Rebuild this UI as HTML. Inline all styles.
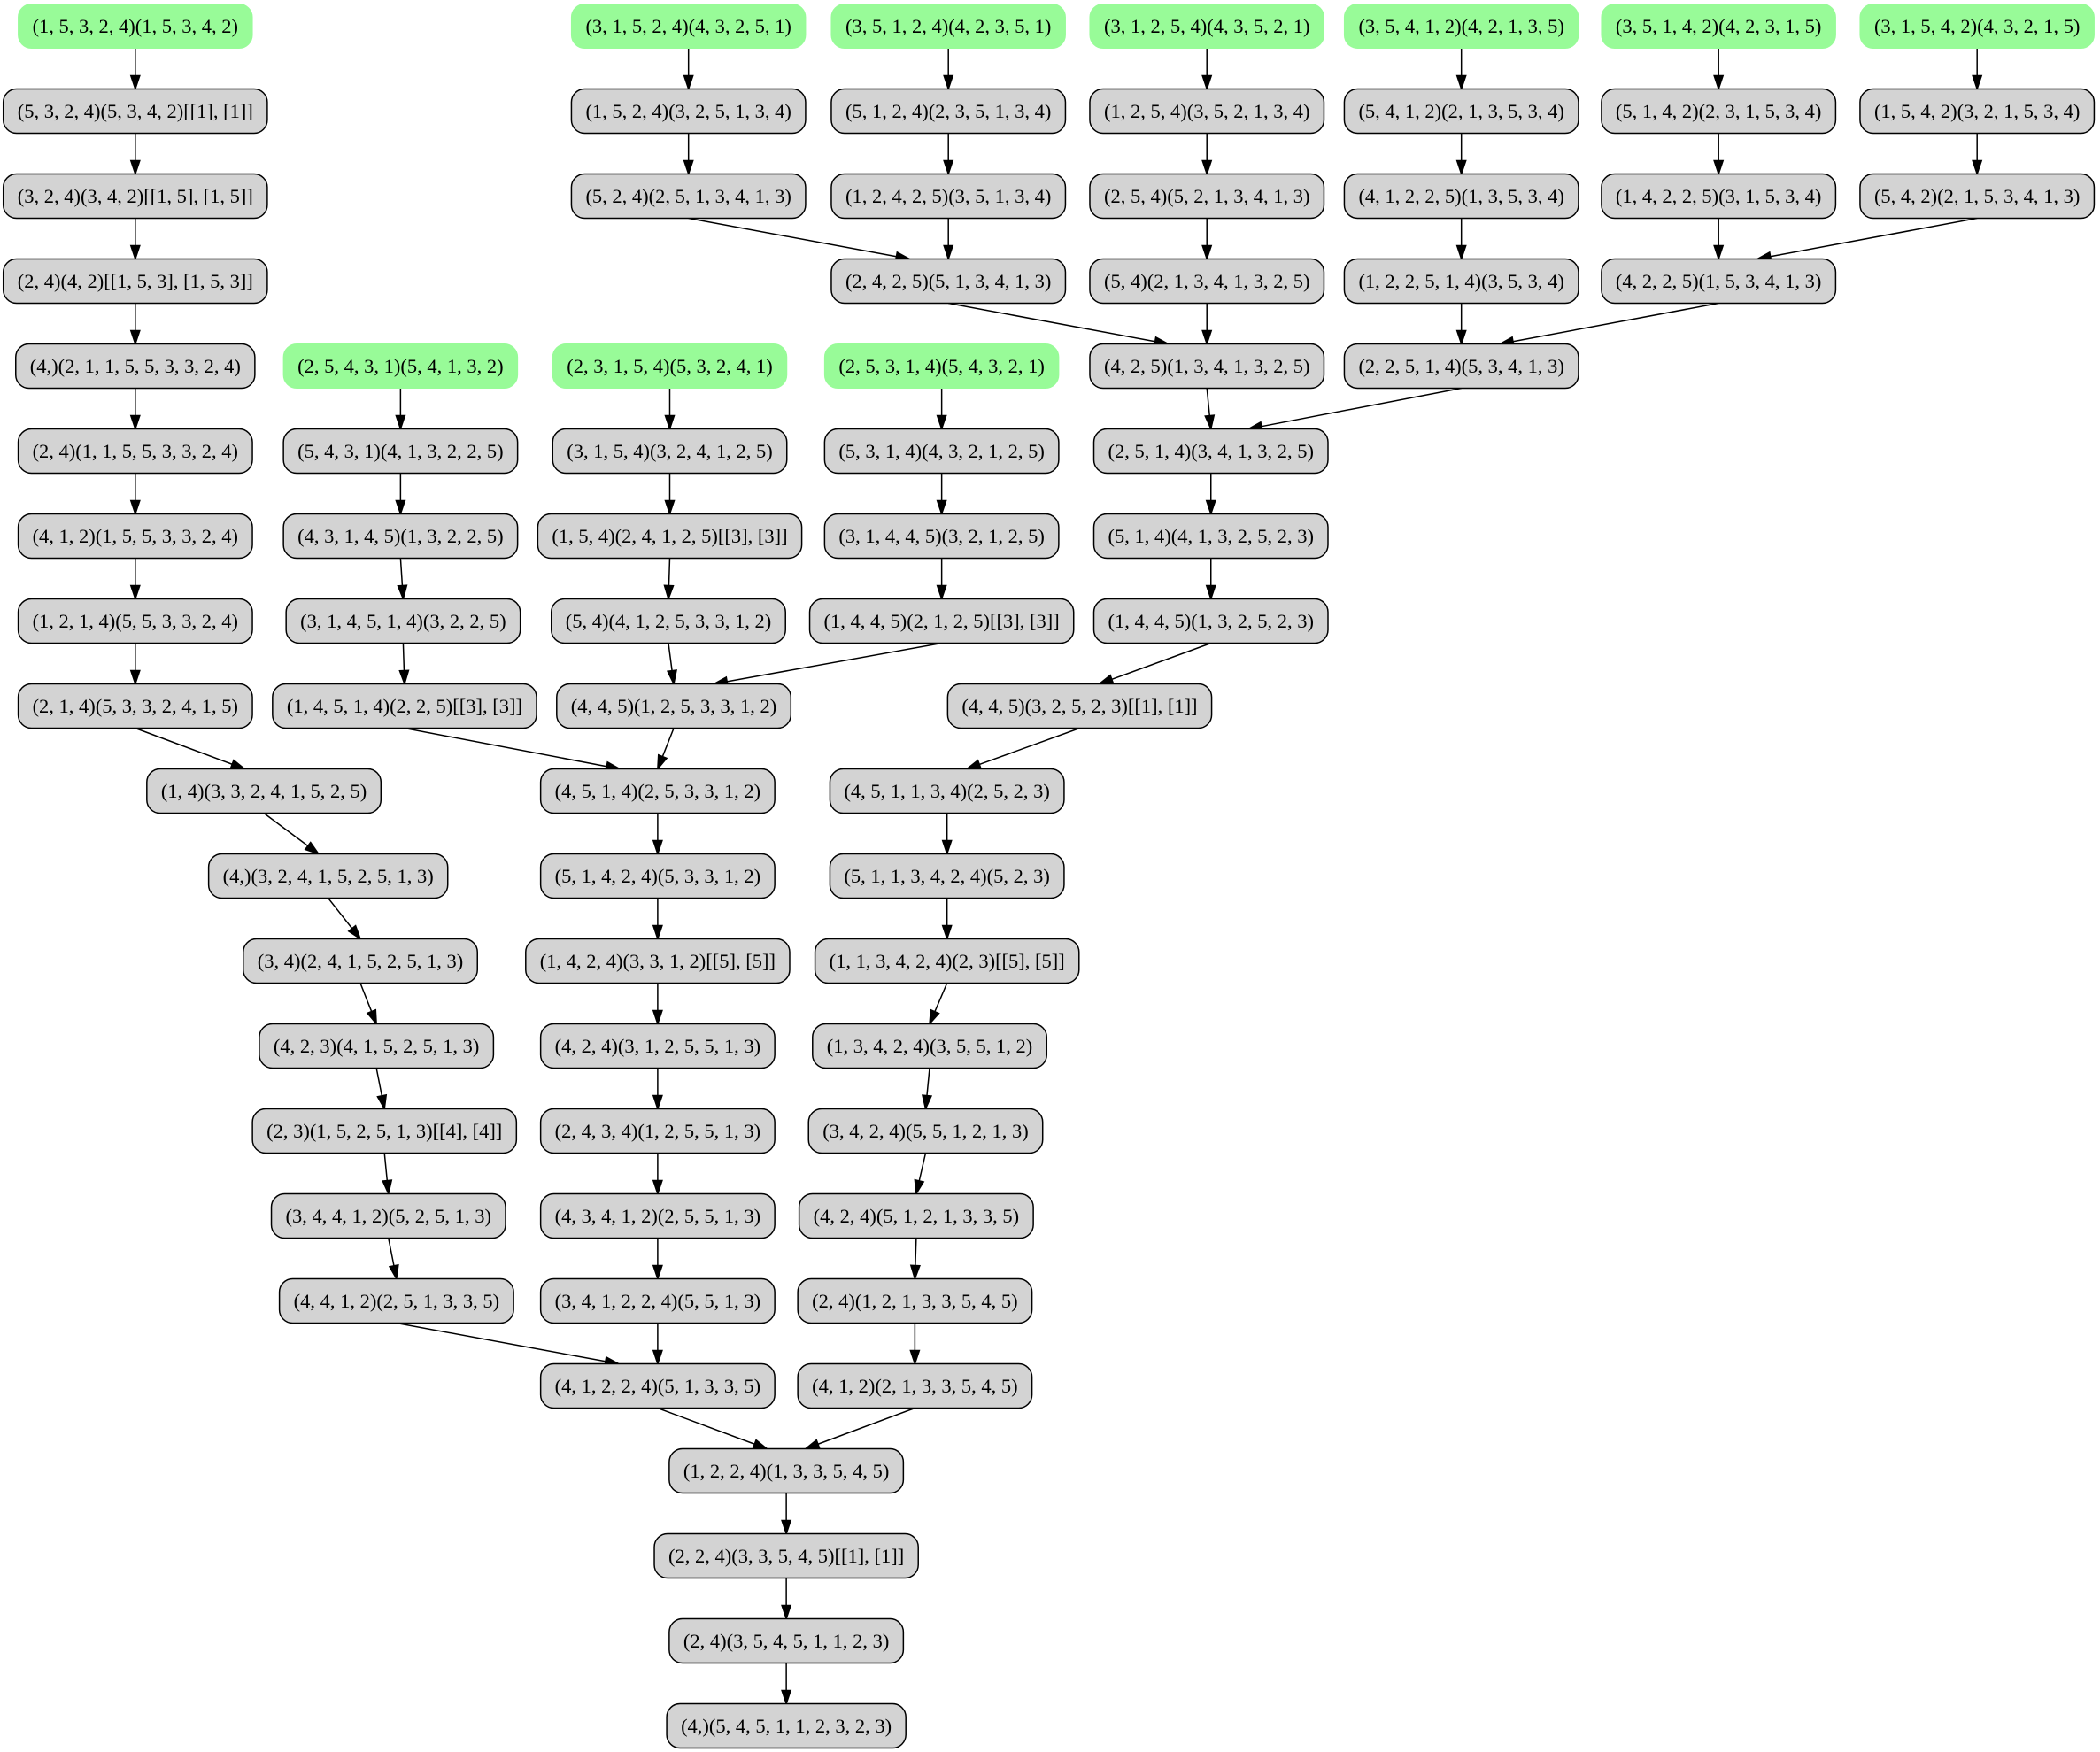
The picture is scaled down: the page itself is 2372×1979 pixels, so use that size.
<!DOCTYPE html>
<html><head><meta charset="utf-8"><style>
html,body{margin:0;padding:0;background:#fff;}
svg{display:block;}
text{font-family:"Liberation Serif",serif;font-size:22.5px;}
</style></head><body>
<svg id="g" width="2372" height="1979" xmlns="http://www.w3.org/2000/svg"></svg>
<script>
const S=1.513;
const N={};
const G=[
["a0",0,101,"(1, 5, 3, 2, 4)(1, 5, 3, 4, 2)",1],
["b0",0,514,"(3, 1, 5, 2, 4)(4, 3, 2, 5, 1)",1],
["c0",0,708,"(3, 5, 1, 2, 4)(4, 2, 3, 5, 1)",1],
["d0",0,901,"(3, 1, 2, 5, 4)(4, 3, 5, 2, 1)",1],
["e0",0,1091,"(3, 5, 4, 1, 2)(4, 2, 1, 3, 5)",1],
["f0",0,1283,"(3, 5, 1, 4, 2)(4, 2, 3, 1, 5)",1],
["g0",0,1476,"(3, 1, 5, 4, 2)(4, 3, 2, 1, 5)",1],
["a1",1,101,"(5, 3, 2, 4)(5, 3, 4, 2)[[1], [1]]"],
["b1",1,514,"(1, 5, 2, 4)(3, 2, 5, 1, 3, 4)"],
["c1",1,708,"(5, 1, 2, 4)(2, 3, 5, 1, 3, 4)"],
["d1",1,901,"(1, 2, 5, 4)(3, 5, 2, 1, 3, 4)"],
["e1",1,1091,"(5, 4, 1, 2)(2, 1, 3, 5, 3, 4)"],
["f1",1,1283,"(5, 1, 4, 2)(2, 3, 1, 5, 3, 4)"],
["g1",1,1476,"(1, 5, 4, 2)(3, 2, 1, 5, 3, 4)"],
["a2",2,101,"(3, 2, 4)(3, 4, 2)[[1, 5], [1, 5]]"],
["b2",2,514,"(5, 2, 4)(2, 5, 1, 3, 4, 1, 3)"],
["c2",2,708,"(1, 2, 4, 2, 5)(3, 5, 1, 3, 4)"],
["d2",2,901,"(2, 5, 4)(5, 2, 1, 3, 4, 1, 3)"],
["e2",2,1091,"(4, 1, 2, 2, 5)(1, 3, 5, 3, 4)"],
["f2",2,1283,"(1, 4, 2, 2, 5)(3, 1, 5, 3, 4)"],
["g2",2,1476,"(5, 4, 2)(2, 1, 5, 3, 4, 1, 3)"],
["a3",3,101,"(2, 4)(4, 2)[[1, 5, 3], [1, 5, 3]]"],
["c3",3,708,"(2, 4, 2, 5)(5, 1, 3, 4, 1, 3)"],
["d3",3,901,"(5, 4)(2, 1, 3, 4, 1, 3, 2, 5)"],
["e3",3,1091,"(1, 2, 2, 5, 1, 4)(3, 5, 3, 4)"],
["f3",3,1283,"(4, 2, 2, 5)(1, 5, 3, 4, 1, 3)"],
["a4",4,101,"(4,)(2, 1, 1, 5, 5, 3, 3, 2, 4)"],
["h4",4,299,"(2, 5, 4, 3, 1)(5, 4, 1, 3, 2)",1],
["i4",4,500,"(2, 3, 1, 5, 4)(5, 3, 2, 4, 1)",1],
["j4",4,703,"(2, 5, 3, 1, 4)(5, 4, 3, 2, 1)",1],
["d4",4,901,"(4, 2, 5)(1, 3, 4, 1, 3, 2, 5)"],
["e4",4,1091,"(2, 2, 5, 1, 4)(5, 3, 4, 1, 3)"],
["a5",5,101,"(2, 4)(1, 1, 5, 5, 3, 3, 2, 4)"],
["h5",5,299,"(5, 4, 3, 1)(4, 1, 3, 2, 2, 5)"],
["i5",5,500,"(3, 1, 5, 4)(3, 2, 4, 1, 2, 5)"],
["j5",5,703,"(5, 3, 1, 4)(4, 3, 2, 1, 2, 5)"],
["d5",5,904,"(2, 5, 1, 4)(3, 4, 1, 3, 2, 5)"],
["a6",6,101,"(4, 1, 2)(1, 5, 5, 3, 3, 2, 4)"],
["h6",6,299,"(4, 3, 1, 4, 5)(1, 3, 2, 2, 5)"],
["i6",6,500,"(1, 5, 4)(2, 4, 1, 2, 5)[[3], [3]]"],
["j6",6,703,"(3, 1, 4, 4, 5)(3, 2, 1, 2, 5)"],
["d6",6,904,"(5, 1, 4)(4, 1, 3, 2, 5, 2, 3)"],
["a7",7,101,"(1, 2, 1, 4)(5, 5, 3, 3, 2, 4)"],
["h7",7,301,"(3, 1, 4, 5, 1, 4)(3, 2, 2, 5)"],
["i7",7,499,"(5, 4)(4, 1, 2, 5, 3, 3, 1, 2)"],
["j7",7,703,"(1, 4, 4, 5)(2, 1, 2, 5)[[3], [3]]"],
["d7",7,904,"(1, 4, 4, 5)(1, 3, 2, 5, 2, 3)"],
["a8",8,101,"(2, 1, 4)(5, 3, 3, 2, 4, 1, 5)"],
["h8",8,302,"(1, 4, 5, 1, 4)(2, 2, 5)[[3], [3]]"],
["i8",8,503,"(4, 4, 5)(1, 2, 5, 3, 3, 1, 2)"],
["d8",8,806,"(4, 4, 5)(3, 2, 5, 2, 3)[[1], [1]]"],
["a9",9,197,"(1, 4)(3, 3, 2, 4, 1, 5, 2, 5)"],
["m9",9,491,"(4, 5, 1, 4)(2, 5, 3, 3, 1, 2)"],
["r9",9,707,"(4, 5, 1, 1, 3, 4)(2, 5, 2, 3)"],
["a10",10,245,"(4,)(3, 2, 4, 1, 5, 2, 5, 1, 3)"],
["m10",10,491,"(5, 1, 4, 2, 4)(5, 3, 3, 1, 2)"],
["r10",10,707,"(5, 1, 1, 3, 4, 2, 4)(5, 2, 3)"],
["a11",11,269,"(3, 4)(2, 4, 1, 5, 2, 5, 1, 3)"],
["m11",11,491,"(1, 4, 2, 4)(3, 3, 1, 2)[[5], [5]]"],
["r11",11,707,"(1, 1, 3, 4, 2, 4)(2, 3)[[5], [5]]"],
["a12",12,281,"(4, 2, 3)(4, 1, 5, 2, 5, 1, 3)"],
["m12",12,491,"(4, 2, 4)(3, 1, 2, 5, 5, 1, 3)"],
["r12",12,694,"(1, 3, 4, 2, 4)(3, 5, 5, 1, 2)"],
["a13",13,287,"(2, 3)(1, 5, 2, 5, 1, 3)[[4], [4]]"],
["m13",13,491,"(2, 4, 3, 4)(1, 2, 5, 5, 1, 3)"],
["r13",13,691,"(3, 4, 2, 4)(5, 5, 1, 2, 1, 3)"],
["a14",14,290,"(3, 4, 4, 1, 2)(5, 2, 5, 1, 3)"],
["m14",14,491,"(4, 3, 4, 1, 2)(2, 5, 5, 1, 3)"],
["r14",14,684,"(4, 2, 4)(5, 1, 2, 1, 3, 3, 5)"],
["a15",15,296,"(4, 4, 1, 2)(2, 5, 1, 3, 3, 5)"],
["m15",15,491,"(3, 4, 1, 2, 2, 4)(5, 5, 1, 3)"],
["r15",15,683,"(2, 4)(1, 2, 1, 3, 3, 5, 4, 5)"],
["m16",16,491,"(4, 1, 2, 2, 4)(5, 1, 3, 3, 5)"],
["r16",16,683,"(4, 1, 2)(2, 1, 3, 3, 5, 4, 5)"],
["z17",17,587,"(1, 2, 2, 4)(1, 3, 3, 5, 4, 5)"],
["z18",18,587,"(2, 2, 4)(3, 3, 5, 4, 5)[[1], [1]]"],
["z19",19,587,"(2, 4)(3, 5, 4, 5, 1, 1, 2, 3)"],
["z20",20,587,"(4,)(5, 4, 5, 1, 1, 2, 3, 2, 3)"]
];
const E=[
"a0 a1","a1 a2","a2 a3","a3 a4","a4 a5","a5 a6","a6 a7","a7 a8","a8 a9","a9 a10","a10 a11","a11 a12","a12 a13","a13 a14","a14 a15","a15 m16",
"b0 b1","b1 b2","b2 c3","c0 c1","c1 c2","c2 c3","c3 d4","d0 d1","d1 d2","d2 d3","d3 d4","d4 d5",
"e0 e1","e1 e2","e2 e3","e3 e4","e4 d5","f0 f1","f1 f2","f2 f3","f3 e4","g0 g1","g1 g2","g2 f3",
"h4 h5","h5 h6","h6 h7","h7 h8","h8 m9","i4 i5","i5 i6","i6 i7","i7 i8","i8 m9","j4 j5","j5 j6","j6 j7","j7 i8",
"d5 d6","d6 d7","d7 d8","d8 r9","m9 m10","m10 m11","m11 m12","m12 m13","m13 m14","m14 m15","m15 m16",
"r9 r10","r10 r11","r11 r12","r12 r13","r13 r14","r14 r15","r15 r16","m16 z17","r16 z17","z17 z18","z18 z19","z19 z20"
];
const svg=document.getElementById('g'),NS="http://www.w3.org/2000/svg";
function el(t,a,p){const e=document.createElementNS(NS,t);for(const k in a)e.setAttribute(k,a[k]);(p||svg).appendChild(e);return e;}
const gE=el('g',{}),gN=el('g',{});
const H=50;
G.forEach(([id,r,x,t,green])=>{
  const cx=x*S,cy=29.5+96*r;
  const g=el('g',{},gN);
  const rect=el('rect',{},g);
  const tx=el('text',{x:cx,y:cy+7.5,'text-anchor':'middle'},g);tx.textContent=t;
  const w=tx.getComputedTextLength()+32;
  rect.setAttribute('x',cx-w/2);rect.setAttribute('y',cy-H/2);rect.setAttribute('width',w);rect.setAttribute('height',H);
  rect.setAttribute('rx',15);rect.setAttribute('fill',green?'#98fb98':'#d3d3d3');
  rect.setAttribute('stroke',green?'#98fb98':'#000');rect.setAttribute('stroke-width',green?1:1.5);
  N[id]={cx,cy,w};
});
E.forEach(s=>{
  const [a,b]=s.split(' ');const A=N[a],B=N[b];
  const x1=A.cx,y1=A.cy+H/2;
  let x2=B.cx,y2=B.cy-H/2;
  if(Math.abs(B.cx-A.cx)>60){x2=A.cx+(B.cx-A.cx)*0.85; if(B.cx>A.cx)x2=Math.max(x2,B.cx-B.w*0.35);else x2=Math.min(x2,B.cx+B.w*0.35);}
  const dx=x2-x1,dy=y2-y1,L=Math.hypot(dx,dy),ux=dx/L,uy=dy/L;
  const bx=x2-ux*15,by=y2-uy*15;
  el('line',{x1:x1,y1:y1,x2:bx,y2:by,stroke:'#000','stroke-width':1.5},gE);
  el('polygon',{points:`${x2},${y2} ${bx-uy*5},${by+ux*5} ${bx+uy*5},${by-ux*5}`,fill:'#000',stroke:'#000','stroke-width':1.5},gE);
});
</script>
</body></html>
